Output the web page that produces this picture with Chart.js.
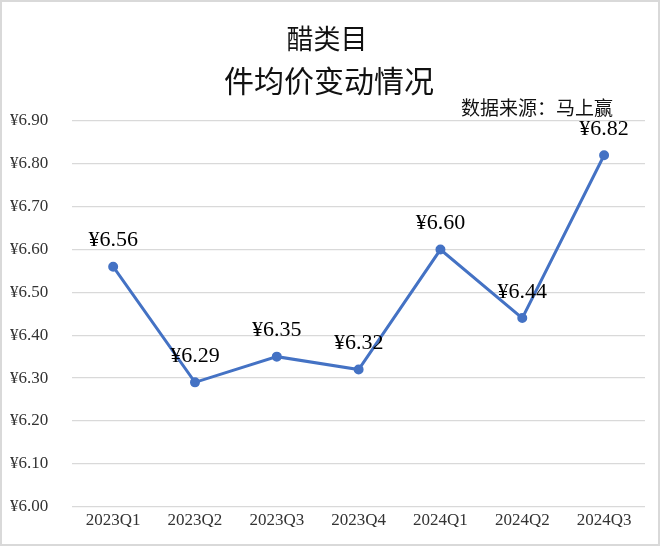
<!DOCTYPE html>
<html>
<head>
<meta charset="utf-8">
<script src="https://cdn.jsdelivr.net/npm/chart.js@4/dist/chart.umd.min.js"></script>
<style>
  html, body { margin: 0; padding: 0; background: #fff; }
  #wrap { width: 656px; height: 542px; border: 2px solid #d9d9d9; position: relative; }
  canvas { display: block; }
</style>
</head>
<body>
<div id="wrap"><canvas id="c" width="656" height="542"></canvas></div>
<script>
/* data */
const quarters = ['2023Q1', '2023Q2', '2023Q3', '2023Q4', '2024Q1', '2024Q2', '2024Q3'];
const avgPrice = [6.56, 6.29, 6.35, 6.32, 6.60, 6.44, 6.82];
const titleLines = ['醋类目', '件均价变动情况'];
const sourceText = '数据来源：马上赢';

const serif = '"Liberation Serif", "DejaVu Serif", serif';
const cjk = '"Noto Sans CJK SC", "Noto Sans", sans-serif';

/* titles, source note and value labels */
const decorPlugin = {
  id: 'decor',
  afterDatasetsDraw(chart) {
    const ctx = chart.ctx;
    ctx.save();
    ctx.fillStyle = '#111';
    ctx.textAlign = 'center';
    ctx.textBaseline = 'middle';
    ctx.font = '27px ' + cjk;
    ctx.fillText(titleLines[0], 325, 37);
    ctx.font = '30px ' + cjk;
    ctx.fillText(titleLines[1], 327, 79);
    ctx.font = '19px ' + cjk;
    ctx.textAlign = 'right';
    ctx.fillText(sourceText, 611, 106);

    // value labels above each point
    const meta = chart.getDatasetMeta(0);
    ctx.font = '22px ' + serif;
    ctx.textAlign = 'center';
    ctx.fillStyle = '#000';
    meta.data.forEach((pt, i) => {
      ctx.fillText('¥' + avgPrice[i].toFixed(2), pt.x, pt.y - 26);
    });
    ctx.restore();
  }
};

const chart = new Chart(document.getElementById('c').getContext('2d'), {
  type: 'line',
  data: {
    labels: quarters,
    datasets: [{
      data: avgPrice,
      borderColor: '#4472C4',
      backgroundColor: '#4472C4',
      borderWidth: 3,
      pointRadius: 3.5,
      pointHoverRadius: 3.5,
      tension: 0
    }]
  },
  options: {
    responsive: false,
    animation: false,
    layout: { padding: { top: 119, left: 8, right: 13, bottom: 17 } },
    plugins: { legend: { display: false }, tooltip: { enabled: false } },
    scales: {
      x: {
        offset: true,
        grid: { display: false },
        border: { display: false },
        ticks: { color: '#333', font: { family: serif, size: 17 }, padding: -4 }
      },
      y: {
        min: 6.0,
        max: 6.9,
        grid: { color: '#d9d9d9', lineWidth: 1.3, drawTicks: false },
        border: { display: false },
        ticks: {
          stepSize: 0.1,
          color: '#333',
          font: { family: serif, size: 17 },
          crossAlign: 'far',
          padding: 12,
          callback: v => '¥' + Number(v).toFixed(2)
        }
      }
    }
  },
  plugins: [decorPlugin]
});
</script>
</body>
</html>
